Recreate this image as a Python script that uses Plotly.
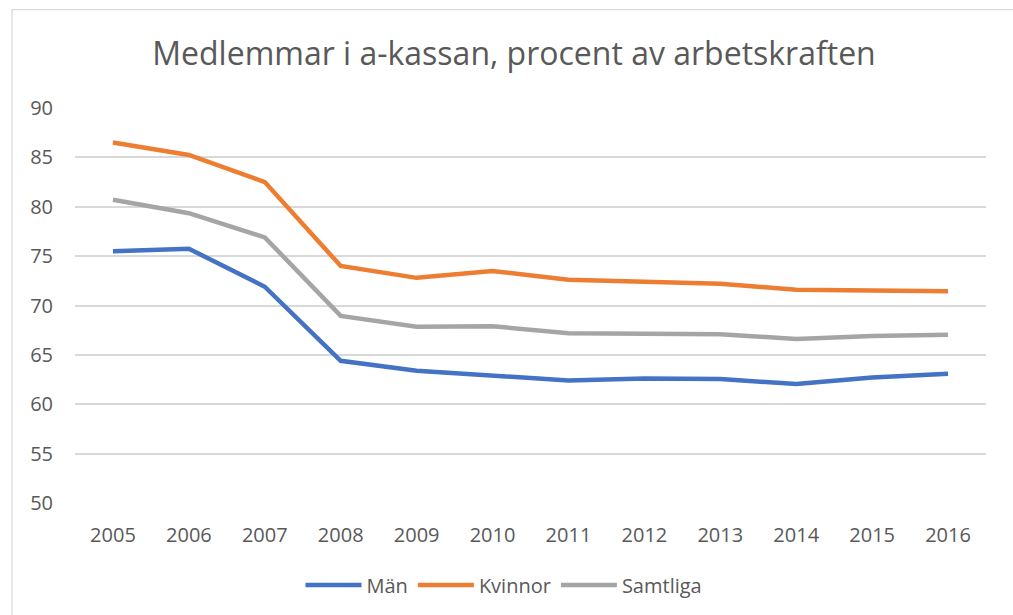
import plotly.graph_objects as go

years = ["2005", "2006", "2007", "2008", "2009", "2010", "2011", "2012", "2013", "2014", "2015", "2016"]
man = [75.5, 75.75, 71.9, 64.4, 63.4, 62.95, 62.4, 62.6, 62.55, 62.05, 62.7, 63.1]
kvinnor = [86.5, 85.25, 82.5, 74.0, 72.8, 73.5, 72.6, 72.4, 72.2, 71.6, 71.55, 71.45]
samtliga = [80.7, 79.35, 76.9, 68.95, 67.85, 67.9, 67.2, 67.2, 67.1, 66.6, 66.9, 67.05]
y_ticks = [50, 55, 60, 65, 70, 75, 80, 85, 90]

FONT = "Open Sans"
TXT = "#595959"

fig = go.Figure()
for name, vals, col in [("Män", man, "#4472C4"), ("Kvinnor", kvinnor, "#ED7D31"), ("Samtliga", samtliga, "#A5A5A5")]:
    fig.add_trace(go.Scatter(x=years, y=vals, name=name, mode="lines",
                             line=dict(color=col, width=4.5)))

fig.update_layout(
    width=1013, height=615,
    margin=dict(l=75, r=27, t=108, b=112),
    paper_bgcolor="white", plot_bgcolor="white",
    font=dict(family=FONT, color=TXT, size=20),
    title=dict(text="Medlemmar i a-kassan, procent av arbetskraften",
               font=dict(family=FONT, size=32, color=TXT),
               x=514 / 1013, xanchor="center", y=1 - 54 / 615, yanchor="middle"),
    showlegend=True,
    legend=dict(orientation="h", x=(300 + 708) / 2 / 1013, xanchor="center", xref="container",
                y=1 - 585 / 615, yanchor="middle", yref="container",
                font=dict(family=FONT, size=20, color=TXT), itemwidth=56,
                bgcolor="rgba(0,0,0,0)"),
    xaxis=dict(type="category", range=[-0.5, 11.5], showgrid=False, showline=False, zeroline=False,
               ticks="", tickfont=dict(size=20, color=TXT), ticklabelstandoff=18),
    yaxis=dict(range=[50, 90], tickvals=y_ticks, showgrid=True, gridcolor="#D9D9D9",
               gridwidth=1.5, zeroline=False, showline=False, ticks="",
               tickfont=dict(size=20, color=TXT), ticklabelstandoff=21),
    shapes=[
        dict(type="line", xref="paper", yref="paper",
             x0=(12 - 75) / 911, x1=(1013 - 75) / 911,
             y0=(502.7 - 10) / 394.4, y1=(502.7 - 10) / 394.4,
             line=dict(color="#D9D9D9", width=1.3)),
        dict(type="line", xref="paper", yref="paper",
             x0=(12 - 75) / 911, x1=(12 - 75) / 911,
             y0=(502.7 - 10) / 394.4, y1=(502.7 - 615) / 394.4,
             line=dict(color="#D9D9D9", width=1.3)),
    ],
)

fig.write_html("out.html", config={"displayModeBar": False},
               post_script="document.body.style.margin='0';")
